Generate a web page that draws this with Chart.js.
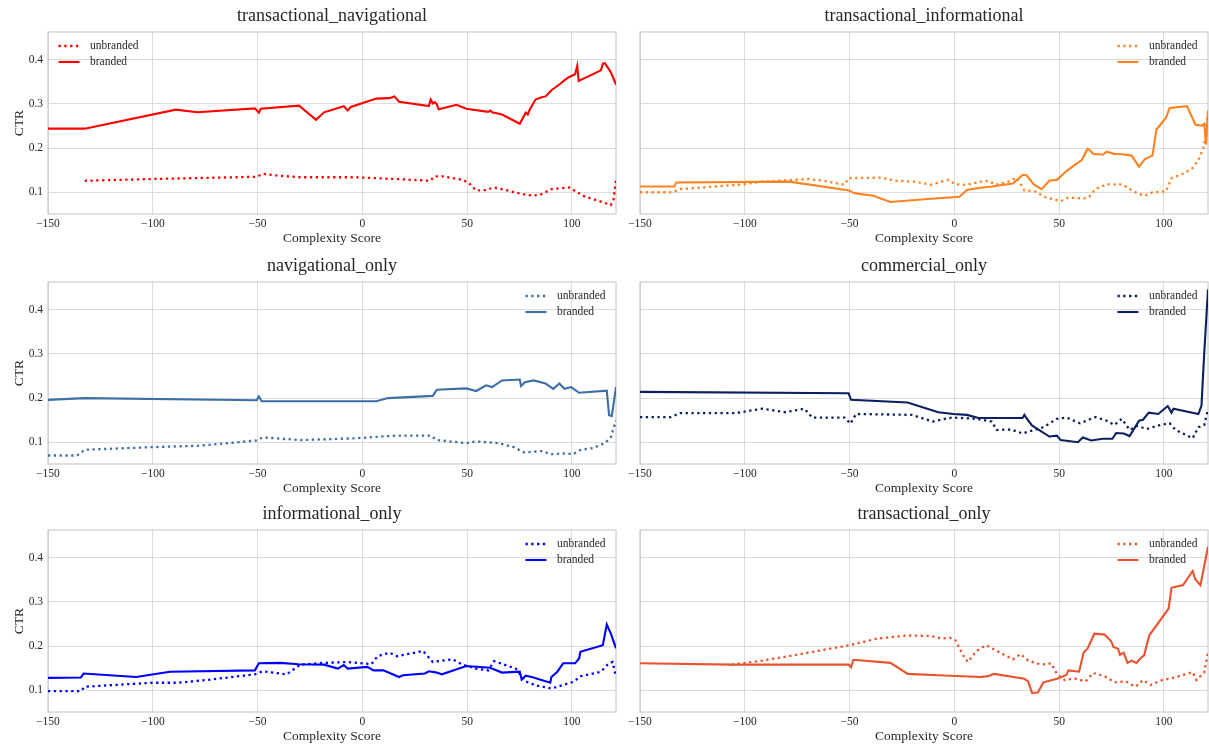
<!DOCTYPE html>
<html>
<head>
<meta charset="utf-8">
<script src="https://cdn.jsdelivr.net/npm/chart.js@4.4.1/dist/chart.umd.min.js"></script>
<style>
  html, body { margin: 0; padding: 0; background: #ffffff; width: 1209px; height: 749px; overflow: hidden; position: relative; }
  canvas { position: absolute; }
</style>
</head>
<body>
<script>
// ---- axis ticks ----
const complexityTicks = [-150, -100, -50, 0, 50, 100];
const ctrTicks = [0.1, 0.2, 0.3, 0.4];

// ---- transactional_navigational ----
const tnUnbrandedX = [-132.5,-100.4,-50.4,-47.5,-40.9,-29.6,-3.2,15.7,32.3,34.5,38.3,47.7,50.6,54.3,59,62.8,68.5,76,81.7,85.5,90.2,98.7,102.5,106.2,113.8,118.5,119.8,121];
const tnUnbrandedY = [0.126,0.130,0.135,0.142,0.138,0.134,0.134,0.130,0.126,0.136,0.136,0.128,0.122,0.104,0.105,0.111,0.105,0.096,0.092,0.096,0.107,0.111,0.100,0.090,0.079,0.071,0.083,0.128];
const tnBrandedX = [-150,-132.5,-89,-78.7,-51.3,-49.4,-48.5,-30.2,-22.1,-18.3,-8.9,-7,-5.5,6.6,12.8,15.3,17.5,31.7,32.6,33.6,34.5,35.5,36.4,44.9,49.6,60,61,61.9,66.6,75.1,77.9,78.9,79.8,82.6,85.5,87.4,90.2,94,96.8,98.7,101.5,102.5,103.2,113.8,114.7,115.7,118.5,121];
const tnBrandedY = [0.244,0.244,0.287,0.281,0.290,0.280,0.289,0.296,0.264,0.281,0.295,0.285,0.293,0.312,0.313,0.317,0.305,0.295,0.310,0.301,0.304,0.299,0.288,0.298,0.289,0.282,0.285,0.281,0.276,0.255,0.280,0.276,0.287,0.310,0.315,0.317,0.331,0.344,0.355,0.361,0.367,0.386,0.352,0.376,0.391,0.392,0.372,0.344];

// ---- transactional_informational ----
const tiUnbrandedX = [-150,-134.5,-130.8,-100.7,-91.6,-69.7,-62.4,-52.4,-50.5,-35,-27.7,-18.6,-11.3,-3.1,0.5,6,12.4,16.1,19.7,25.2,29.7,33.4,38,43.4,50.7,54.4,61.7,64.4,67.2,72.6,79.9,87.2,90.9,94.5,100.9,103.6,109.1,113.7,116.4,119.1,121];
const tiUnbrandedY = [0.100,0.100,0.107,0.118,0.124,0.130,0.126,0.117,0.132,0.133,0.126,0.124,0.117,0.128,0.118,0.117,0.124,0.126,0.117,0.123,0.133,0.104,0.103,0.089,0.080,0.088,0.086,0.090,0.107,0.118,0.118,0.098,0.092,0.100,0.102,0.132,0.142,0.155,0.173,0.204,0.280];
const tiBrandedX = [-150,-133.6,-132.7,-78.8,-50.2,-47.8,-38.7,-30.5,-9.5,2.4,6,10.6,17.9,27.9,30.7,32.5,34.3,38,41.6,45.3,48.9,53.5,57.1,60.8,63.5,64.4,66.2,70.8,72.6,76.3,79.9,84.5,88.1,90.9,94.5,96.4,99.1,100.9,102.7,111,115,118.2,119.2,120.1,121];
const tiBrandedY = [0.113,0.113,0.122,0.124,0.104,0.098,0.092,0.078,0.086,0.090,0.105,0.109,0.113,0.120,0.131,0.139,0.139,0.117,0.107,0.126,0.128,0.148,0.161,0.173,0.198,0.196,0.187,0.185,0.192,0.187,0.186,0.183,0.158,0.175,0.183,0.242,0.258,0.268,0.291,0.295,0.253,0.251,0.255,0.208,0.285];

// ---- navigational_only ----
const navUnbrandedX = [-150,-136.2,-132.5,-100.4,-78.7,-50.4,-47.5,-29.6,-3.2,15.7,32.6,35.5,49.6,54.3,64.7,72.3,77,85.5,90.2,96.8,100.6,104.3,110,115.7,118.5,121];
const navUnbrandedY = [0.070,0.070,0.083,0.089,0.092,0.104,0.111,0.105,0.109,0.115,0.115,0.105,0.098,0.102,0.098,0.089,0.077,0.080,0.073,0.075,0.073,0.083,0.087,0.098,0.111,0.149];
const navBrandedX = [-150,-132.5,-50.4,-49.4,-48.1,6.6,12.3,33.6,35.5,49.6,54.3,59,61.9,66.6,75.1,75.7,77.5,81.7,87.4,91.1,94,96.4,99.6,103.4,116.6,117.7,119,121];
const navBrandedY = [0.196,0.200,0.195,0.204,0.193,0.193,0.200,0.205,0.219,0.222,0.216,0.229,0.225,0.240,0.242,0.227,0.236,0.240,0.233,0.221,0.233,0.221,0.225,0.212,0.217,0.161,0.159,0.225];

// ---- commercial_only ----
const comUnbrandedX = [-150,-135.4,-130.8,-104.4,-91.6,-80.7,-71.5,-67.9,-52.4,-49.6,-46.9,-20.4,-10.4,-1.3,10.6,17.9,20.1,27,32.5,42.5,48.9,53.5,59.9,67.2,72.6,76.3,79.9,83.6,87.2,91.8,94.5,98.2,102.7,105.5,113.7,116.4,119.2,121];
const comUnbrandedY = [0.157,0.157,0.166,0.166,0.176,0.168,0.176,0.156,0.156,0.142,0.164,0.162,0.147,0.156,0.153,0.147,0.128,0.129,0.120,0.134,0.153,0.156,0.143,0.157,0.149,0.139,0.153,0.128,0.137,0.130,0.134,0.139,0.143,0.128,0.109,0.134,0.139,0.175];
const comBrandedX = [-150,-50.5,-49.3,-22.3,-7.7,-0.4,6,11.5,32.5,33.4,34.3,37,45.3,48.9,50.7,58.9,61.3,65.3,70.8,75.4,77.2,80.8,83.6,88.1,90,92.7,97.3,101.8,103.6,104.5,116.4,117.9,119.2,121];
const comBrandedY = [0.214,0.211,0.196,0.190,0.168,0.164,0.162,0.155,0.155,0.162,0.155,0.138,0.113,0.115,0.105,0.100,0.111,0.104,0.108,0.108,0.121,0.120,0.114,0.149,0.151,0.167,0.164,0.182,0.167,0.176,0.164,0.183,0.301,0.446];

// ---- informational_only ----
const infoUnbrandedX = [-150,-134.3,-132.5,-100.4,-88.1,-74.9,-51.3,-47.5,-36.2,-29.6,-18.3,-7,4.3,7.2,12.8,16.6,28.9,33.6,43,47.7,54.3,60,62.8,73.2,77.9,82.6,90.2,93,100.6,104.3,113.8,117.6,119.4,121];
const infoUnbrandedY = [0.098,0.098,0.108,0.117,0.117,0.123,0.136,0.143,0.136,0.158,0.162,0.164,0.159,0.177,0.185,0.177,0.189,0.164,0.170,0.158,0.149,0.145,0.166,0.149,0.120,0.111,0.104,0.108,0.119,0.132,0.142,0.161,0.164,0.130];
const infoBrandedX = [-150,-134.3,-133,-107.9,-91.9,-51.3,-49.4,-39.1,-30.6,-18.3,-11.7,-8.9,-7,2.4,5.3,10,17.5,19.4,29.8,31.7,35.5,37.9,49.6,60.9,66.6,75.1,76,77.9,80.8,89.6,90.2,93,95.8,101.5,103.4,104,114.7,116.6,118.5,121];
const infoBrandedY = [0.128,0.129,0.138,0.130,0.142,0.145,0.161,0.162,0.159,0.158,0.149,0.157,0.149,0.153,0.145,0.145,0.130,0.134,0.138,0.143,0.140,0.136,0.155,0.151,0.140,0.142,0.124,0.133,0.130,0.117,0.130,0.142,0.161,0.161,0.172,0.187,0.202,0.249,0.229,0.195];

// ---- transactional_only ----
const trUnbrandedX = [-106.2,-91.6,-73.4,-50.2,-36.9,-22.3,-11.3,-5.8,-2.2,0.5,4.2,6.4,10.6,15.1,21.5,27.9,31.6,35.2,41.6,46.2,48.9,52.6,57.1,62.6,66.2,71.7,76.3,81.8,86.4,90,93.7,99.1,103.6,113.7,115.5,119.2,121];
const trUnbrandedY = [0.158,0.167,0.182,0.202,0.217,0.224,0.223,0.217,0.219,0.213,0.179,0.164,0.189,0.202,0.186,0.170,0.182,0.167,0.158,0.161,0.137,0.123,0.127,0.120,0.139,0.132,0.118,0.120,0.108,0.123,0.112,0.123,0.127,0.141,0.123,0.141,0.186];
const trBrandedX = [-150,-106.2,-50.5,-49.3,-48.2,-30.5,-22.3,-7.7,12.4,16.1,18.8,33.4,35.2,37,39.8,42.5,49.8,53.5,54.4,59.5,61.7,63.5,66.8,71.7,74.8,75.9,78.1,79,80.8,82.6,84.5,86.8,89,90.5,91.8,93.1,102.2,103.6,109.1,113.7,115,117.4,121];
const trBrandedY = [0.161,0.158,0.158,0.152,0.169,0.162,0.137,0.134,0.130,0.132,0.137,0.126,0.120,0.094,0.095,0.118,0.127,0.135,0.145,0.142,0.186,0.194,0.228,0.226,0.211,0.198,0.194,0.180,0.185,0.162,0.167,0.162,0.173,0.179,0.203,0.225,0.285,0.332,0.338,0.370,0.351,0.338,0.425];

// ---- look & layout ----
const FONT = '"Liberation Serif", "Times New Roman", "DejaVu Serif", serif';
const TEXT = '#262626';
const GRID = '#dcdcdc';
const FRAME = '#cccccc';
const X_MIN = -150, X_MAX = 121;
const Y_MIN = 0.0508, Y_MAX = 0.4628;
const SOLID_W = 2.1;
const DOT_W = 2.3;
const DOT_DASH = [2.3, 3.5];

const columns = [
  { canvasLeft: 0,   canvasWidth: 622, plotLeft: 48,  plotRight: 616 },
  { canvasLeft: 618, canvasWidth: 591, plotLeft: 640, plotRight: 1208 }
];
const rowsTop = [0, 250, 498];
const CANVAS_H = 250;

const panels = [
  { title: 'transactional_navigational', color: '#ff0000', col: 0, row: 0, key: 'left',
    ux: tnUnbrandedX, uy: tnUnbrandedY, bx: tnBrandedX, by: tnBrandedY },
  { title: 'transactional_informational', color: '#ff8220', col: 1, row: 0, key: 'right',
    ux: tiUnbrandedX, uy: tiUnbrandedY, bx: tiBrandedX, by: tiBrandedY },
  { title: 'navigational_only', color: '#3d6fa5', col: 0, row: 1, key: 'right',
    ux: navUnbrandedX, uy: navUnbrandedY, bx: navBrandedX, by: navBrandedY },
  { title: 'commercial_only', color: '#0c1f5e', col: 1, row: 1, key: 'right',
    ux: comUnbrandedX, uy: comUnbrandedY, bx: comBrandedX, by: comBrandedY },
  { title: 'informational_only', color: '#0000ff', col: 0, row: 2, key: 'right',
    ux: infoUnbrandedX, uy: infoUnbrandedY, bx: infoBrandedX, by: infoBrandedY },
  { title: 'transactional_only', color: '#e8522f', col: 1, row: 2, key: 'right',
    ux: trUnbrandedX, uy: trUnbrandedY, bx: trBrandedX, by: trBrandedY }
];

const pairs = (xs, ys) => xs.map((x, i) => ({ x: x, y: ys[i] }));
const withMinus = v => (v < 0 ? '\u2212' + Math.abs(v) : String(v));

// light grey box around each plotting area
const framePlugin = {
  id: 'frame',
  beforeDatasetsDraw(chart) {
    const { ctx, chartArea: a } = chart;
    ctx.save();
    ctx.strokeStyle = FRAME;
    ctx.lineWidth = 1.2;
    ctx.strokeRect(a.left, a.top, a.right - a.left, a.bottom - a.top);
    ctx.restore();
  }
};

// line-sample key drawn inside the plotting area
const keyPlugin = {
  id: 'lineKey',
  afterDatasetsDraw(chart, args, opts) {
    const { ctx, chartArea: a } = chart;
    const sets = chart.data.datasets;
    ctx.save();
    ctx.font = '11.5px ' + FONT;
    ctx.textBaseline = 'middle';
    ctx.textAlign = 'left';
    const sample = 21, gap = 10.5, inset = 10.5;
    const textW = Math.max(...sets.map(d => ctx.measureText(d.label).width));
    const x0 = opts.side === 'left' ? a.left + inset : a.right - inset - textW - gap - sample;
    sets.forEach((d, i) => {
      const y = a.top + 14 + i * 16;
      ctx.strokeStyle = d.borderColor;
      ctx.lineWidth = d.borderWidth;
      ctx.setLineDash(d.borderDash || []);
      ctx.beginPath();
      ctx.moveTo(x0, y);
      ctx.lineTo(x0 + sample, y);
      ctx.stroke();
      ctx.setLineDash([]);
      ctx.fillStyle = TEXT;
      ctx.fillText(d.label, x0 + sample + gap, y);
    });
    ctx.restore();
  }
};

panels.forEach(p => {
  const col = columns[p.col];
  const canvas = document.createElement('canvas');
  canvas.width = col.canvasWidth;
  canvas.height = CANVAS_H;
  canvas.style.left = col.canvasLeft + 'px';
  canvas.style.top = rowsTop[p.row] + 'px';
  canvas.style.width = col.canvasWidth + 'px';
  canvas.style.height = CANVAS_H + 'px';
  document.body.appendChild(canvas);

  const yWidth = col.plotLeft - col.canvasLeft;
  const padRight = col.canvasLeft + col.canvasWidth - col.plotRight;
  const showY = p.col === 0;

  new Chart(canvas, {
    type: 'line',
    data: {
      datasets: [
        { label: 'unbranded', data: pairs(p.ux, p.uy), borderColor: p.color, backgroundColor: p.color,
          borderWidth: DOT_W, borderDash: DOT_DASH, pointRadius: 0, tension: 0, fill: false },
        { label: 'branded', data: pairs(p.bx, p.by), borderColor: p.color, backgroundColor: p.color,
          borderWidth: SOLID_W, pointRadius: 0, tension: 0, fill: false }
      ]
    },
    options: {
      responsive: false,
      animation: false,
      devicePixelRatio: 1,
      events: [],
      layout: { padding: { left: 0, right: padRight, top: 0, bottom: 0 } },
      plugins: {
        legend: { display: false },
        tooltip: { enabled: false },
        title: {
          display: true, text: p.title, fullSize: false, color: TEXT,
          font: { family: FONT, size: 18, weight: 'normal', lineHeight: '20px' },
          padding: { top: 6, bottom: 6 }
        },
        lineKey: { side: p.key }
      },
      scales: {
        x: {
          type: 'linear', min: X_MIN, max: X_MAX,
          afterBuildTicks: s => { s.ticks = complexityTicks.map(v => ({ value: v })); },
          afterFit: s => { s.height = 36; },
          grid: { color: GRID, lineWidth: 1, drawTicks: false },
          border: { display: false },
          ticks: { color: TEXT, font: { family: FONT, size: 11.5 }, padding: 3, maxRotation: 0, autoSkip: false,
                   callback: v => withMinus(v) },
          title: { display: true, text: 'Complexity Score', color: TEXT,
                   font: { family: FONT, size: 13.5, lineHeight: '15px' }, padding: { top: 0, bottom: 4 } }
        },
        y: {
          type: 'linear', min: Y_MIN, max: Y_MAX,
          afterBuildTicks: s => { s.ticks = ctrTicks.map(v => ({ value: v })); },
          afterFit: s => { s.width = yWidth; },
          grid: { color: GRID, lineWidth: 1, drawTicks: false },
          border: { display: false },
          ticks: { display: showY, color: TEXT, font: { family: FONT, size: 11.5 }, padding: 5,
                   callback: v => v.toFixed(1) },
          title: { display: showY, text: 'CTR', color: TEXT,
                   font: { family: FONT, size: 13.5, lineHeight: '15px' }, padding: { top: 11.5, bottom: 0 } }
        }
      }
    },
    plugins: [framePlugin, keyPlugin]
  });
});
</script>
</body>
</html>
